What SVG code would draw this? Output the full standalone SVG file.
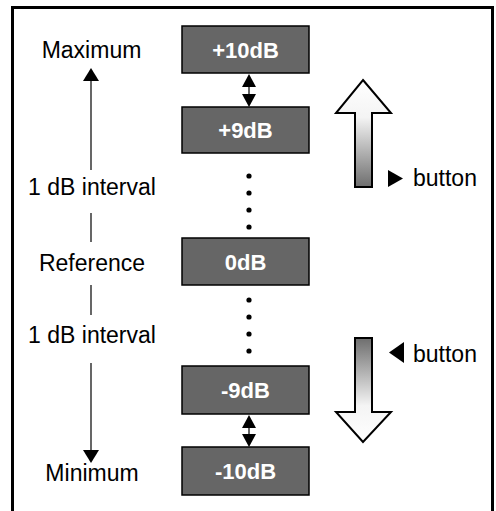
<svg xmlns="http://www.w3.org/2000/svg" width="496" height="511" viewBox="0 0 496 511">
<defs>
<style>
.box{fill:#666;stroke:#000;stroke-width:1.5}
.bt{fill:#fff;font-family:"Liberation Sans",Arial,sans-serif;font-weight:bold;font-size:22px;text-anchor:middle}
.lb{fill:#000;font-family:"Liberation Sans",Arial,sans-serif;font-size:23px}
.ln{stroke:#000;stroke-width:1.2;fill:none}
.hd{fill:#000}
.big{stroke:#000;stroke-width:2;stroke-linejoin:miter}
</style>
<linearGradient id="gUp" x1="0" y1="0" x2="0" y2="1">
<stop offset="0" stop-color="#fff"/><stop offset="0.35" stop-color="#f4f4f4"/><stop offset="1" stop-color="#6e6e6e"/>
</linearGradient>
<linearGradient id="gDn" x1="0" y1="0" x2="0" y2="1">
<stop offset="0" stop-color="#6e6e6e"/><stop offset="0.65" stop-color="#f4f4f4"/><stop offset="1" stop-color="#fff"/>
</linearGradient>
</defs>
<rect x="0" y="0" width="496" height="511" fill="#fff"/>
<rect id="frame" x="12.5" y="7.5" width="480" height="520" fill="none" stroke="#000" stroke-width="3"/>

<g id="n10"><rect class="box" x="182" y="26" width="127" height="47"/><text class="bt" x="245.5" y="57.5">+10dB</text></g>
<g id="n9"><rect class="box" x="182" y="107" width="127" height="46"/><text class="bt" x="245.5" y="138">+9dB</text></g>
<g id="n0"><rect class="box" x="182" y="238" width="127" height="47"/><text class="bt" x="245.5" y="269.5">0dB</text></g>
<g id="nm9"><rect class="box" x="182" y="366" width="127" height="48"/><text class="bt" x="245.5" y="398">-9dB</text></g>
<g id="nm10"><rect class="box" x="182" y="447" width="127" height="48"/><text class="bt" x="245.5" y="479">-10dB</text></g>

<g id="labels">
<text class="lb" x="91.5" y="58" text-anchor="middle">Maximum</text>
<text class="lb" x="92" y="195" text-anchor="middle">1 dB interval</text>
<text class="lb" x="92" y="271" text-anchor="middle">Reference</text>
<text class="lb" x="92" y="343" text-anchor="middle">1 dB interval</text>
<text class="lb" x="92" y="481" text-anchor="middle">Minimum</text>
<text class="lb" x="413" y="186">button</text>
<text class="lb" x="413" y="362">button</text>
</g>

<g id="connectors">
<line class="ln" x1="91" y1="80" x2="91" y2="170"/>
<polygon class="hd" points="91,68 83,81 99,81"/>
<line class="ln" x1="91" y1="213" x2="91" y2="242"/>
<line class="ln" x1="91" y1="285" x2="91" y2="315"/>
<line class="ln" x1="91" y1="363" x2="91" y2="451"/>
<polygon class="hd" points="91,463 83,450 99,450"/>

<line class="ln" x1="249" y1="86" x2="249" y2="95"/>
<polygon class="hd" points="249,74 242,87 256,87"/>
<polygon class="hd" points="249,107 242,94 256,94"/>
<line class="ln" x1="249" y1="427" x2="249" y2="436"/>
<polygon class="hd" points="249,415 242,428 256,428"/>
<polygon class="hd" points="249,447 242,434 256,434"/>

<g class="hd">
<circle cx="249" cy="176" r="2.6"/><circle cx="249" cy="193" r="2.6"/><circle cx="249" cy="210" r="2.6"/><circle cx="249" cy="227" r="2.6"/>
<circle cx="249" cy="300" r="2.6"/><circle cx="249" cy="317" r="2.6"/><circle cx="249" cy="334" r="2.6"/><circle cx="249" cy="351" r="2.6"/>
</g>

<polygon class="big" fill="url(#gUp)" points="363,80 391,113 372,113 372,187 355,187 355,113 336,113"/>
<polygon class="big" fill="url(#gDn)" points="355,338 372,338 372,412 391,412 363,442 336,412 355,412"/>
<polygon class="hd" points="388,170 388,187 403,178.5"/>
<polygon class="hd" points="404,342 404,363 389,352.5"/>
</g>
</svg>
